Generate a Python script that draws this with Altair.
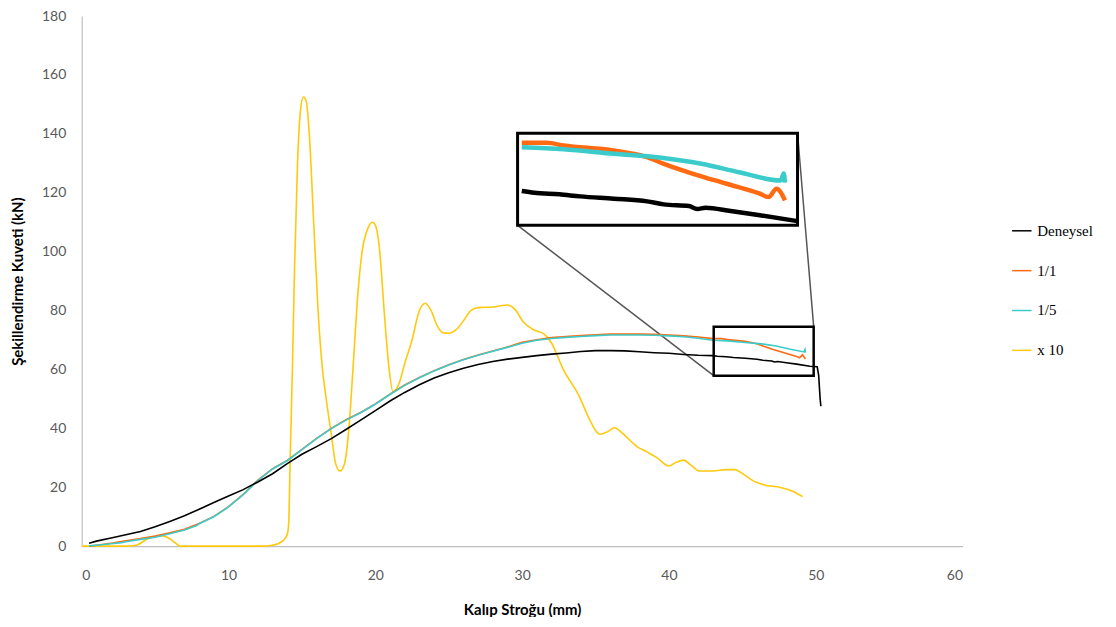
import altair as alt
import pandas as pd

# ---- data ----
series_names = ["Deneysel", "1/1", "1/5", "x 10"]
series_colors = ["#000000", "#FF6A13", "#3CCBCB", "#FFC90E"]

deneysel_x = [0.5, 1, 2, 3, 4, 5, 6, 7, 8, 9, 10, 11, 12, 13, 14, 15, 16, 17, 18, 19, 20,
              21, 22, 23, 24, 25, 26, 27, 28, 29, 30, 31, 32, 33, 34, 35, 36, 37, 38, 39, 40,
              41, 42, 43.0, 43.3, 43.9, 44.4, 45.2, 46.0, 46.4, 47.0, 47.2, 47.4, 48.0, 48.7,
              49.6, 50.1, 50.2, 50.25, 50.3, 50.35]
deneysel_y = [1.0, 1.7, 2.8, 3.9, 5.0, 6.6, 8.4, 10.3, 12.5, 14.8, 17.0, 19.2, 21.8, 24.6, 28.0,
              31.2, 33.8, 36.5, 39.6, 42.8, 46.0, 49.3, 52.2, 54.8, 57.1, 58.9, 60.4, 61.7, 62.7,
              63.5, 64.1, 64.7, 65.2, 65.6, 66.1, 66.4, 66.4, 66.3, 66.0, 65.7, 65.5, 65.1, 64.8,
              64.7, 64.5, 64.3, 64.06, 63.78, 63.46, 63.1, 62.9, 62.55, 62.7, 62.3, 61.8, 61.1,
              60.9, 58.0, 54.0, 50.0, 47.5]

oran11_x = [0.5, 1, 2, 3, 4, 5, 6, 7, 8, 9, 10, 11, 12, 13, 14, 15, 16, 17, 18, 19, 20,
            21, 22, 23, 24, 25, 26, 27, 28, 29, 30, 31, 32, 33, 34, 35, 36, 37, 38, 39, 40,
            41, 42, 43.0, 43.6, 44.0, 45.2, 46.0, 46.4, 47.1, 47.9, 48.7, 48.9, 49.1, 49.3]
oran11_y = [0.0, 0.3, 1.0, 1.8, 2.6, 3.4, 4.5, 5.7, 7.7, 10.1, 13.4, 17.6, 22.4, 26.3, 29.1,
            32.9, 36.6, 40.0, 42.9, 45.4, 48.3, 51.6, 54.7, 57.3, 59.6, 61.6, 63.4, 64.9, 66.3,
            67.6, 69.2, 70.1, 70.8, 71.2, 71.5, 71.8, 72.0, 72.0, 72.0, 71.9, 71.7, 71.4, 71.0,
            70.46, 70.46, 70.14, 69.54, 68.74, 67.95, 66.76, 65.57, 64.38, 63.97, 64.97, 63.58]

oran15_x = [0.5, 1, 2, 2.7, 3, 4, 5, 6, 7, 7.8, 8, 9, 10, 11, 12, 13, 14, 15, 16, 17, 18, 19, 20,
            21, 22, 23, 24, 25, 26, 27, 28, 29, 30, 31, 32, 33, 34, 35, 36, 37, 38, 39, 40,
            41, 42, 43.0, 44.0, 45.2, 46.3, 47.3, 48.2, 49.2, 49.27, 49.3]
oran15_y = [0.1, 0.3, 0.8, 1.2, 1.5, 2.3, 3.0, 4.2, 5.5, 6.9, 7.6, 10.0, 13.3, 17.5, 22.3, 26.2,
            29.0, 32.8, 36.5, 39.9, 42.8, 45.3, 48.2, 51.5, 54.6, 57.2, 59.5, 61.5, 63.3, 64.8,
            66.2, 67.5, 68.9, 69.9, 70.5, 70.9, 71.2, 71.5, 71.7, 71.7, 71.7, 71.6, 71.4, 71.1,
            70.6, 69.93, 69.7, 69.15, 68.7, 67.95, 66.95, 65.96, 66.8, 65.7]

x10_x = [0.0, 3.0, 3.7, 4.5, 5.0, 5.5, 6.0, 6.4, 6.7, 12.3, 13.0, 13.7, 14.0, 14.1, 14.2, 14.35,
         14.5, 14.7, 14.9, 15.1, 15.3, 15.5, 15.8, 16.1, 16.4, 16.6, 17.0, 17.3, 17.6, 17.9, 18.2,
         18.5, 18.8, 19.1, 19.5, 19.8, 20.0, 20.3, 20.6, 20.9, 21.2, 21.6, 22.0, 22.5, 23.0, 23.4,
         23.8, 24.2, 24.6, 25.0, 25.5, 26.0, 26.5, 27.0, 28.0, 29.0, 29.5, 30.1, 30.8, 31.5, 32.0,
         32.8, 33.9, 34.5, 35.3, 35.8, 36.3, 36.8, 37.8, 38.5, 39.2, 40.0, 40.5, 41.0, 41.5, 42.1,
         43.0, 43.9, 44.5, 44.9, 45.8, 46.5, 47.6, 48.5, 49.1]
x10_y = [0.0, 0.0, 0.3, 2.5, 3.3, 3.5, 2.5, 1.0, 0.0, 0.0, 0.3, 1.8, 4.0, 8.0, 30.0, 60.0,
         95.0, 130.0, 148.0, 152.5, 151.0, 140.0, 110.0, 80.0, 60.0, 52.0, 38.0, 28.0, 25.5, 28.0,
         40.0, 62.0, 85.0, 100.0, 108.0, 110.0, 109.0, 100.0, 80.0, 62.0, 52.5, 55.0, 62.0, 70.0,
         80.0, 82.5, 80.0, 75.0, 72.5, 72.3, 73.5, 76.5, 80.0, 81.0, 81.2, 81.9, 80.5, 76.0, 73.4,
         72.0, 69.0, 60.0, 50.8, 44.0, 38.0, 38.8, 40.2, 38.5, 33.9, 32.0, 30.0, 27.2, 28.5, 29.2,
         27.5, 25.5, 25.5, 26.0, 26.0, 25.0, 22.0, 20.8, 19.9, 18.5, 16.8]

# zoom window (data units) shown magnified in the inset, and inset frame
zoom_x = [42.9, 49.6]
zoom_y = [60.6, 71.6]
inset_x = [29.69, 48.76]
inset_y = [108.95, 140.2]
small_box_x = [43.05, 49.86]
small_box_y = [57.9, 74.5]

# ---- build tables ----
rows = []
for name, xs, ys in [("Deneysel", deneysel_x, deneysel_y), ("1/1", oran11_x, oran11_y),
                     ("1/5", oran15_x, oran15_y), ("x 10", x10_x, x10_y)]:
    for i, (a, b) in enumerate(zip(xs, ys)):
        rows.append({"seri": name, "x": a, "y": b, "i": i})
df = pd.DataFrame(rows)

sx = (inset_x[1] - inset_x[0]) / (zoom_x[1] - zoom_x[0])
sy = (inset_y[1] - inset_y[0]) / (zoom_y[1] - zoom_y[0])
ins = df[(df.x >= 43.0) & (df.x <= zoom_x[1]) & (df.seri != "x 10")].copy()
ins["x"] = inset_x[0] + (ins.x - zoom_x[0]) * sx
ins["y"] = inset_y[0] + (ins.y - zoom_y[0]) * sy

boxes = pd.DataFrame([
    {"x": inset_x[0], "x2": inset_x[1], "y": inset_y[0], "y2": inset_y[1], "w": 3},
    {"x": small_box_x[0], "x2": small_box_x[1], "y": small_box_y[0], "y2": small_box_y[1], "w": 2.5},
])
connectors = pd.DataFrame([
    {"x": inset_x[0], "y": inset_y[0], "x2": small_box_x[0], "y2": small_box_y[0]},
    {"x": inset_x[1], "y": inset_y[1], "x2": small_box_x[1], "y2": small_box_y[1]},
])

xscale = alt.Scale(domain=[0, 60], nice=False)
yscale = alt.Scale(domain=[0, 180], nice=False)
color = alt.Color(
    "seri:N",
    scale=alt.Scale(domain=series_names, range=series_colors),
    legend=alt.Legend(
        title=None, orient="none", legendX=933, legendY=205,
        symbolType="stroke", symbolSize=380, symbolStrokeWidth=1.5,
        labelFont="Liberation Serif", labelFontSize=15, labelColor="#000000",
        rowPadding=21, labelOffset=5,
    ),
)

xax = alt.X("x:Q", scale=xscale, title="Kalıp Stroğu (mm)",
            axis=alt.Axis(values=[0, 10, 20, 30, 40, 50, 60], titlePadding=21, labelPadding=22))
yax = alt.Y("y:Q", scale=yscale, title="Şekillendirme Kuveti (kN)",
            axis=alt.Axis(values=list(range(0, 181, 20)), titlePadding=16, labelPadding=16))

conn = alt.Chart(connectors).mark_rule(color="#555555", strokeWidth=1.5).encode(
    x=alt.X("x:Q", scale=xscale), y=alt.Y("y:Q", scale=yscale), x2="x2:Q", y2="y2:Q")

layers = [conn]
for name, interp in [("x 10", "monotone"), ("1/1", "linear"), ("1/5", "linear"), ("Deneysel", "linear")]:
    layers.append(
        alt.Chart(df).transform_filter(alt.datum.seri == name)
        .mark_line(strokeWidth=1.6, interpolate=interp)
        .encode(x=xax, y=yax, color=color, order="i:Q")
    )

box_layer = alt.Chart(boxes).mark_rect(fill="white", fillOpacity=0, stroke="black").encode(
    x=alt.X("x:Q", scale=xscale), x2="x2:Q", y=alt.Y("y:Q", scale=yscale), y2="y2:Q",
    strokeWidth=alt.StrokeWidth("w:Q", scale=None, legend=None))
layers.append(box_layer)

for name in ["Deneysel", "1/1", "1/5"]:
    layers.append(
        alt.Chart(ins).transform_filter(alt.datum.seri == name)
        .mark_line(strokeWidth=4.5, strokeCap="butt", interpolate="monotone")
        .encode(x=alt.X("x:Q", scale=xscale), y=alt.Y("y:Q", scale=yscale), color=color, order="i:Q")
    )

chart = alt.layer(*layers).properties(
    width=884, height=532,
    autosize=alt.AutoSizeParams(type="none"),
    padding={"left": 74, "top": 7, "right": 146, "bottom": 70},
).configure_view(stroke=None).configure_axis(
    grid=False, ticks=False, domainColor="#BFBFBF", domainWidth=1.2,
    labelFont="Lato", labelFontSize=14, labelColor="#595959",
    titleFont="Lato", titleFontSize=15, titleFontWeight="bold", titleColor="#000000",
)

chart.save("out.html", embed_options={"renderer": "svg", "actions": False})
